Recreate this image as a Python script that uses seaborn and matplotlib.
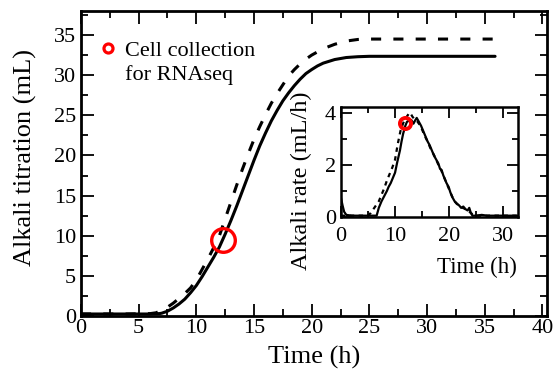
import numpy as np
import pandas as pd
import matplotlib
matplotlib.use("Agg")
import matplotlib.pyplot as plt
from matplotlib.lines import Line2D
from matplotlib.ticker import MultipleLocator
import seaborn as sns

sns.set_theme(style="ticks")
plt.rcParams['font.family'] = ['Liberation Serif', 'DejaVu Serif']
plt.rcParams['text.color'] = 'black'
plt.rcParams['axes.labelcolor'] = 'black'

# main panel: cumulative alkali titration (mL) vs time (h)
solid_t = [0, 2, 4, 6, 6.8, 7.0, 7.5, 8.0, 8.5, 9.0, 9.5, 10.0, 10.5, 11.0, 11.5, 12.0,
           12.5, 13.0, 13.5, 14.0, 14.5, 15.0, 15.5, 16.0, 16.5, 17.0, 17.5, 18.0, 18.5,
           19.0, 19.5, 20.0, 20.5, 21.0, 22.0, 23.0, 24.0, 25.0, 35.9]
solid_v = [0.25, 0.25, 0.25, 0.25, 0.3, 0.35, 0.6, 1.0, 1.5, 2.1, 2.9, 3.8, 4.9, 6.1, 7.3, 8.6,
           10.2, 11.9, 13.7, 15.6, 17.5, 19.4, 21.2, 22.8, 24.3, 25.6, 26.8, 27.8, 28.7,
           29.5, 30.2, 30.7, 31.15, 31.5, 31.95, 32.2, 32.3, 32.35, 32.35]

dash_t = [0, 2, 4, 6, 6.5, 7.0, 7.5, 8.0, 8.5, 9.0, 9.5, 10.0, 10.5, 11.0, 11.5, 12.0,
          12.5, 13.0, 13.5, 14.0, 14.5, 15.0, 15.5, 16.0, 16.5, 17.0, 17.5, 18.0, 18.5,
          19.0, 19.5, 20.0, 21.0, 22.0, 23.0, 24.0, 25.0, 35.7]
dash_v = [0.25, 0.25, 0.25, 0.3, 0.4, 0.7, 1.1, 1.6, 2.2, 2.8, 3.5, 4.5, 5.8, 7.1, 8.5, 10.0,
          12.1, 14.2, 16.3, 18.3, 20.2, 22.0, 23.6, 25.1, 26.5, 27.7, 28.8, 29.9, 30.7,
          31.4, 32.0, 32.5, 33.3, 33.85, 34.25, 34.45, 34.5, 34.5]

# inset: alkali rate (mL/h)
rate_solid_t = [0, 0.3, 0.6, 1.0, 2, 4, 6.0, 6.6, 7.0, 7.5, 8.0, 8.5, 8.8, 9.2, 9.6, 10.0,
                10.4, 10.9, 11.2, 11.5, 11.9, 12.2, 12.6, 13.0, 13.4, 13.7, 14.0, 14.4,
                14.8, 15.2, 15.6, 16.0, 16.4, 16.8, 17.2, 17.6, 18.0, 18.3, 18.6, 18.9,
                19.2, 19.5, 19.9, 20.2, 20.6, 21.0, 21.4, 21.8, 22.2, 22.6, 23.0, 23.4,
                23.7, 24.0, 24.3, 25, 26, 27, 33]
rate_solid_v = [0.75, 0.45, 0.2, 0.08, 0.05, 0.05, 0.05, 0.05, 0.35, 0.6, 0.8, 1.0, 1.15,
                1.3, 1.5, 1.7, 2.1, 2.55, 2.9, 3.2, 3.5, 3.65, 3.7, 3.72, 3.58, 3.7, 3.8,
                3.65, 3.5, 3.3, 3.1, 2.9, 2.75, 2.55, 2.35, 2.2, 2.05, 1.85, 1.8, 1.6,
                1.45, 1.3, 1.15, 0.95, 0.75, 0.6, 0.5, 0.45, 0.35, 0.4, 0.3, 0.25, 0.35,
                0.15, 0.05, 0.05, 0.08, 0.05, 0.05]

rate_dash_t = [0, 5.0, 5.5, 6.0, 6.5, 7.0, 7.5, 8.0, 8.5, 9.0, 9.5, 10.0, 10.5, 11.0,
               11.5, 12.0, 12.5, 12.8, 13.2, 13.6, 14.0, 14.5, 15.0, 15.5, 16.0, 16.5,
               17.0, 17.5, 18.0, 18.5, 19.0, 19.5, 20.0, 20.5, 21.0, 21.5, 22.0, 22.5,
               23.0, 23.5, 24.0, 24.5, 25.0, 33]
rate_dash_v = [0.05, 0.05, 0.15, 0.3, 0.45, 0.6, 0.85, 1.1, 1.4, 1.65, 1.9, 2.2, 2.8, 3.3,
               3.6, 3.8, 3.95, 4.0, 3.85, 3.75, 3.7, 3.55, 3.35, 3.1, 2.9, 2.65, 2.45,
               2.25, 2.0, 1.8, 1.55, 1.3, 1.05, 0.8, 0.6, 0.5, 0.4, 0.35, 0.3, 0.25, 0.15,
               0.08, 0.05, 0.05]

# RNAseq sampling points
sample_main = (12.3, 9.5)
sample_inset = (11.85, 3.6)
legend_lines = ["Cell collection", "for RNAseq"]


def style_axes(a, lw):
    for s in a.spines.values():
        s.set_linewidth(lw)
        s.set_color("black")
    a.tick_params(which="both", direction="in", top=True, right=True,
                  colors="black", labelcolor="black", labelsize=16, width=1.3)
    a.tick_params(which="major", length=9)
    a.tick_params(which="minor", length=5)


fig = plt.figure(figsize=(5.57, 3.78), dpi=100)
ax = fig.add_axes([0.1454, 0.164, 0.8366, 0.807])

sns.lineplot(x=solid_t, y=solid_v, ax=ax, color="black", lw=2.2)
sns.lineplot(x=dash_t, y=dash_v, ax=ax, color="black", lw=2.2)
ax.lines[-1].set_dashes([3.3, 4.0])
ax.plot(*sample_main, marker="o", ms=17, mfc="none", mec="red", mew=2.4, ls="none")

ax.set_xlim(0, 40.4)
ax.set_ylim(0, 38)
ax.xaxis.set_major_locator(MultipleLocator(5))
ax.xaxis.set_minor_locator(MultipleLocator(2.5))
ax.yaxis.set_major_locator(MultipleLocator(5))
ax.yaxis.set_minor_locator(MultipleLocator(2.5))
style_axes(ax, 2.0)
ax.tick_params(axis="x", pad=2)
ax.set_xlabel("Time (h)", fontsize=19)
ax.set_ylabel("Alkali titration (mL)", fontsize=19)
ax.xaxis.set_label_coords(0.5, -0.098)
ax.yaxis.set_label_coords(-0.094, 0.52)

handles = [Line2D([], [], marker="o", ls="none", mfc="none", mec="red", ms=6.5, mew=2.3),
           Line2D([], [], ls="none")]
ax.legend(handles, legend_lines, loc="upper left",
          bbox_to_anchor=(0.0, 0.955), frameon=False, fontsize=16,
          handlelength=1.0, handletextpad=0.3, borderaxespad=0.3, labelspacing=0.15)

# inset
ins = fig.add_axes([0.612, 0.426, 0.318, 0.291])
sns.lineplot(x=rate_solid_t, y=rate_solid_v, ax=ins, color="black", lw=1.6)
sns.lineplot(x=rate_dash_t, y=rate_dash_v, ax=ins, color="black", lw=1.6)
ins.lines[-1].set_dashes([2, 2])
ins.plot(*sample_inset, marker="o", ms=8, mfc="none", mec="red", mew=2.8, ls="none")
ins.set_xlim(0, 32.7)
ins.set_ylim(0, 4.22)
ins.xaxis.set_major_locator(MultipleLocator(10))
ins.xaxis.set_minor_locator(MultipleLocator(5))
ins.yaxis.set_major_locator(MultipleLocator(2))
ins.yaxis.set_minor_locator(MultipleLocator(1))
style_axes(ins, 1.8)
ins.tick_params(which="major", length=8)
ins.tick_params(which="minor", length=4)
ins.tick_params(axis="x", pad=7)
ins.set_xlabel("Time (h)", fontsize=16.5, loc="right")
ins.set_ylabel("Alkali rate (mL/h)", fontsize=17.5)
ins.xaxis.set_label_coords(0.995, -0.36)
ins.yaxis.set_label_coords(-0.165, 0.33)

fig.savefig("out.png", dpi=100)
